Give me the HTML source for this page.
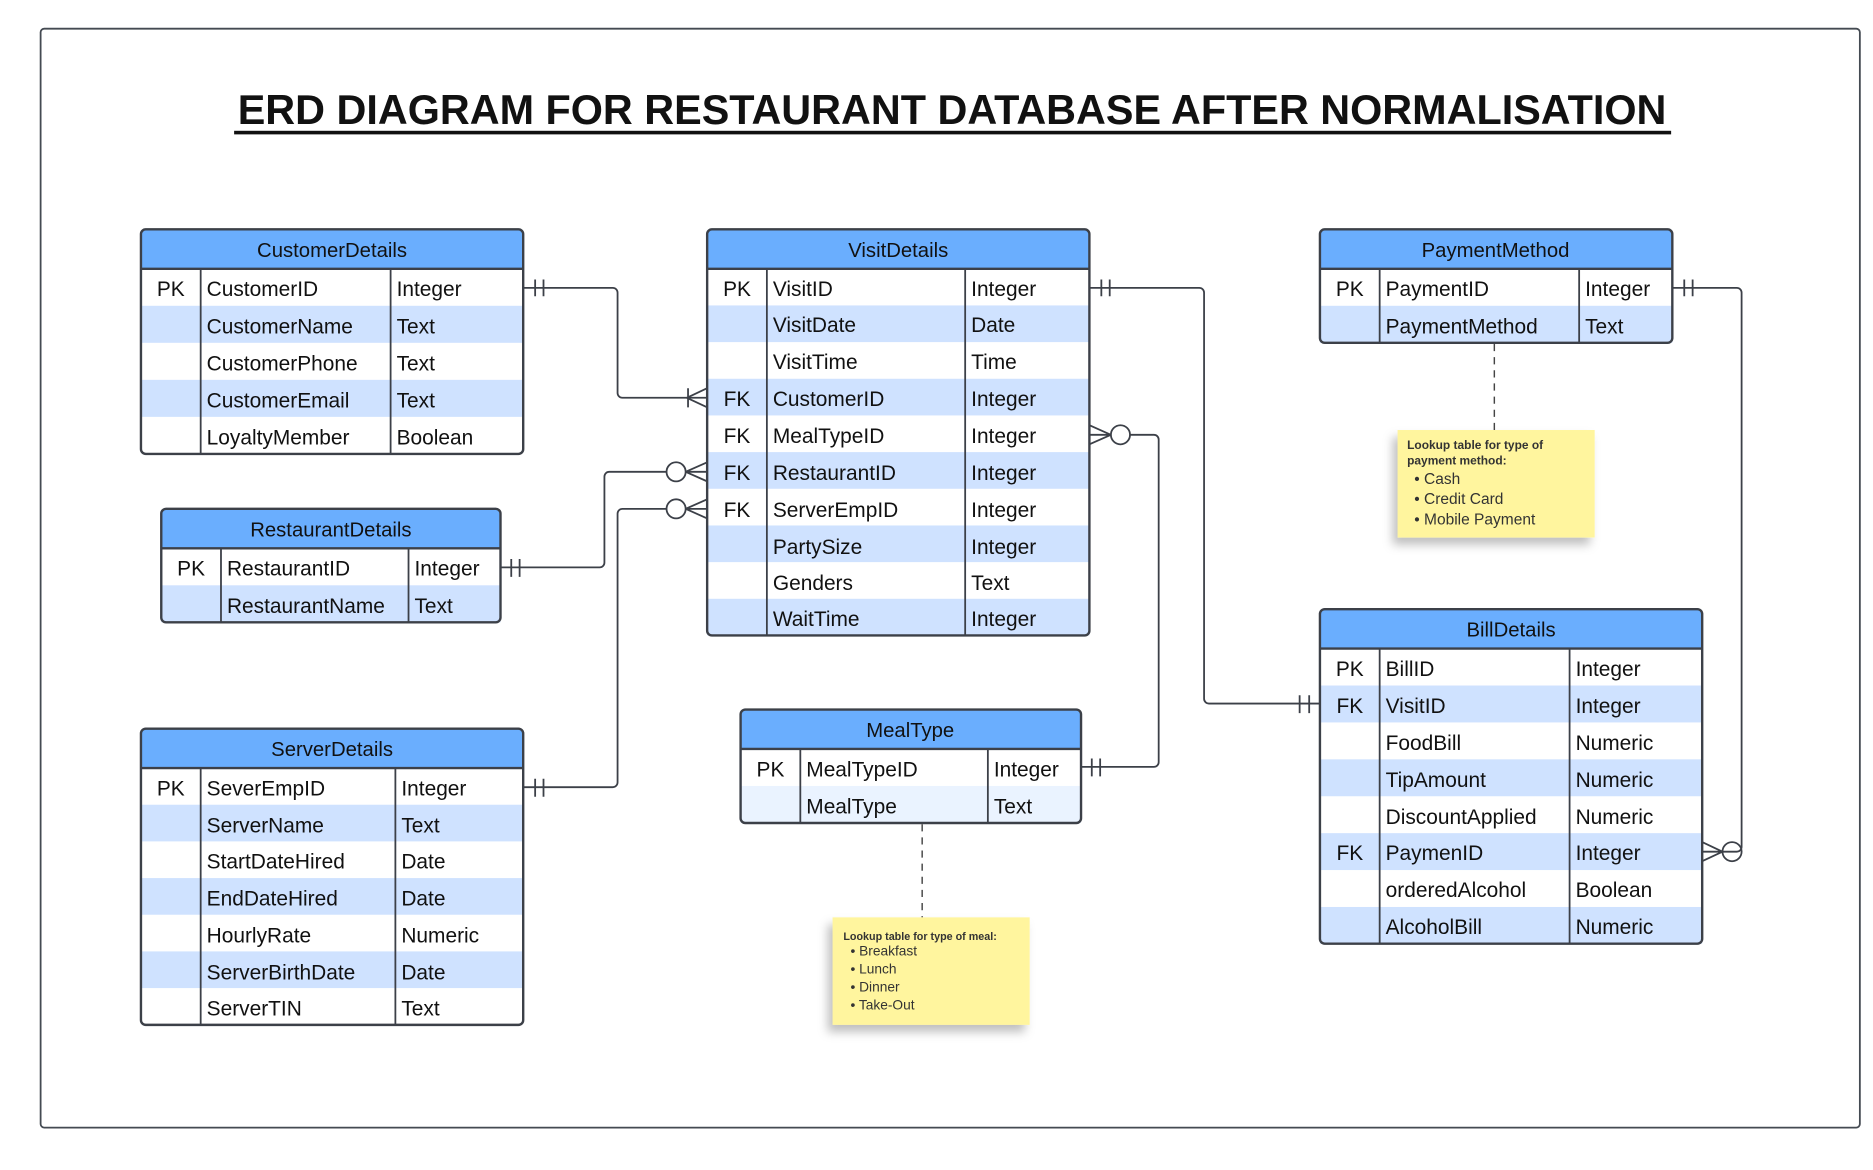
<!DOCTYPE html>
<html><head><meta charset="utf-8"><style>
html,body{margin:0;padding:0;background:#fff;}
svg{display:block;}
text{font-family:"Liberation Sans",sans-serif;fill:#111;}
.t{font-size:17.5px;}
.h{font-size:17px;}
.ln{stroke:#3c4048;stroke-width:1.5;fill:none;}
.bd{stroke:#3c4048;stroke-width:2;fill:none;}
.hd{fill:#6aaefe;}
.sh{fill:#cfe2ff;}
.n1{font-size:10px;font-weight:bold;fill:#333;}
.n2{font-size:13px;fill:#333;}
.n3{font-size:11.5px;fill:#333;}
</style></head><body>
<svg width="1873" height="1170" viewBox="0 0 1568 979.5" preserveAspectRatio="none" xmlns="http://www.w3.org/2000/svg">
<defs>
<filter id="sd" x="-20%" y="-20%" width="140%" height="150%"><feDropShadow dx="-4" dy="6" stdDeviation="4" flood-color="#000" flood-opacity="0.25"/></filter>
</defs>
<rect x="34" y="24" width="1523" height="920" rx="3" fill="#fff" stroke="#444a52" stroke-width="1.5"/>
<text x="797" y="104" text-anchor="middle" font-size="35" font-weight="bold" textLength="1196" lengthAdjust="spacingAndGlyphs">ERD  DIAGRAM  FOR  RESTAURANT  DATABASE   AFTER  NORMALISATION</text>
<rect x="196" y="109.5" width="1203" height="3" fill="#111"/>

<!-- CustomerDetails -->
<rect x="118" y="192" width="320" height="188" rx="4" fill="#fff"/>
<path class="hd" d="M122 192h312a4 4 0 0 1 4 4v29h-320v-29a4 4 0 0 1 4-4z"/>
<rect class="sh" x="118" y="256" width="320" height="31"/>
<rect class="sh" x="118" y="318" width="320" height="31"/>
<line class="bd" x1="118" y1="225" x2="438" y2="225"/>
<line class="ln" x1="168" y1="225" x2="168" y2="380"/><line class="ln" x1="327" y1="225" x2="327" y2="380"/>
<rect class="bd" x="118" y="192" width="320" height="188" rx="4"/>
<text class="h" x="278" y="215" text-anchor="middle">CustomerDetails</text>
<text class="t" x="143" y="248" text-anchor="middle">PK</text>
<text class="t" x="173" y="248">CustomerID</text><text class="t" x="332" y="248">Integer</text>
<text class="t" x="173" y="279">CustomerName</text><text class="t" x="332" y="279">Text</text>
<text class="t" x="173" y="310">CustomerPhone</text><text class="t" x="332" y="310">Text</text>
<text class="t" x="173" y="341">CustomerEmail</text><text class="t" x="332" y="341">Text</text>
<text class="t" x="173" y="372">LoyaltyMember</text><text class="t" x="332" y="372">Boolean</text>

<!-- VisitDetails -->
<rect x="592" y="192" width="320" height="340" rx="4" fill="#fff"/>
<path class="hd" d="M596 192h312a4 4 0 0 1 4 4v29h-320v-29a4 4 0 0 1 4-4z"/>
<rect class="sh" x="592" y="255.7" width="320" height="30.7"/>
<rect class="sh" x="592" y="317.1" width="320" height="30.7"/>
<rect class="sh" x="592" y="378.5" width="320" height="30.7"/>
<rect class="sh" x="592" y="439.9" width="320" height="30.7"/>
<rect class="sh" x="592" y="501.3" width="320" height="30.7"/>
<line class="bd" x1="592" y1="225" x2="912" y2="225"/>
<line class="ln" x1="642" y1="225" x2="642" y2="532"/><line class="ln" x1="808" y1="225" x2="808" y2="532"/>
<rect class="bd" x="592" y="192" width="320" height="340" rx="4"/>
<text class="h" x="752" y="215" text-anchor="middle">VisitDetails</text>
<text class="t" x="617" y="248" text-anchor="middle">PK</text>
<text class="t" x="647" y="248">VisitID</text><text class="t" x="813" y="248">Integer</text>
<text class="t" x="647" y="278">VisitDate</text><text class="t" x="813" y="278">Date</text>
<text class="t" x="647" y="309">VisitTime</text><text class="t" x="813" y="309">Time</text>
<text class="t" x="617" y="340" text-anchor="middle">FK</text>
<text class="t" x="647" y="340">CustomerID</text><text class="t" x="813" y="340">Integer</text>
<text class="t" x="617" y="371" text-anchor="middle">FK</text>
<text class="t" x="647" y="371">MealTypeID</text><text class="t" x="813" y="371">Integer</text>
<text class="t" x="617" y="402" text-anchor="middle">FK</text>
<text class="t" x="647" y="402">RestaurantID</text><text class="t" x="813" y="402">Integer</text>
<text class="t" x="617" y="433" text-anchor="middle">FK</text>
<text class="t" x="647" y="433">ServerEmpID</text><text class="t" x="813" y="433">Integer</text>
<text class="t" x="647" y="464">PartySize</text><text class="t" x="813" y="464">Integer</text>
<text class="t" x="647" y="494">Genders</text><text class="t" x="813" y="494">Text</text>
<text class="t" x="647" y="524">WaitTime</text><text class="t" x="813" y="524">Integer</text>

<!-- PaymentMethod -->
<rect x="1105" y="192" width="295" height="95" rx="4" fill="#fff"/>
<path class="hd" d="M1109 192h287a4 4 0 0 1 4 4v29h-295v-29a4 4 0 0 1 4-4z"/>
<rect class="sh" x="1105" y="256" width="295" height="31"/>
<line class="bd" x1="1105" y1="225" x2="1400" y2="225"/>
<line class="ln" x1="1155" y1="225" x2="1155" y2="287"/><line class="ln" x1="1322" y1="225" x2="1322" y2="287"/>
<rect class="bd" x="1105" y="192" width="295" height="95" rx="4"/>
<text class="h" x="1252" y="215" text-anchor="middle">PaymentMethod</text>
<text class="t" x="1130" y="248" text-anchor="middle">PK</text>
<text class="t" x="1160" y="248">PaymentID</text><text class="t" x="1327" y="248">Integer</text>
<text class="t" x="1160" y="279">PaymentMethod</text><text class="t" x="1327" y="279">Text</text>

<!-- RestaurantDetails -->
<rect x="135" y="426" width="284" height="95" rx="4" fill="#fff"/>
<path class="hd" d="M139 426h276a4 4 0 0 1 4 4v29h-284v-29a4 4 0 0 1 4-4z"/>
<rect class="sh" x="135" y="490" width="284" height="31"/>
<line class="bd" x1="135" y1="459" x2="419" y2="459"/>
<line class="ln" x1="185" y1="459" x2="185" y2="521"/><line class="ln" x1="342" y1="459" x2="342" y2="521"/>
<rect class="bd" x="135" y="426" width="284" height="95" rx="4"/>
<text class="h" x="277" y="449" text-anchor="middle">RestaurantDetails</text>
<text class="t" x="160" y="482" text-anchor="middle">PK</text>
<text class="t" x="190" y="482">RestaurantID</text><text class="t" x="347" y="482">Integer</text>
<text class="t" x="190" y="513">RestaurantName</text><text class="t" x="347" y="513">Text</text>

<!-- ServerDetails -->
<rect x="118" y="610" width="320" height="248" rx="4" fill="#fff"/>
<path class="hd" d="M122 610h312a4 4 0 0 1 4 4v29h-320v-29a4 4 0 0 1 4-4z"/>
<rect class="sh" x="118" y="673.7" width="320" height="30.7"/>
<rect class="sh" x="118" y="735.1" width="320" height="30.7"/>
<rect class="sh" x="118" y="796.5" width="320" height="30.7"/>
<line class="bd" x1="118" y1="643" x2="438" y2="643"/>
<line class="ln" x1="168" y1="643" x2="168" y2="858"/><line class="ln" x1="331" y1="643" x2="331" y2="858"/>
<rect class="bd" x="118" y="610" width="320" height="248" rx="4"/>
<text class="h" x="278" y="633" text-anchor="middle">ServerDetails</text>
<text class="t" x="143" y="666" text-anchor="middle">PK</text>
<text class="t" x="173" y="666">SeverEmpID</text><text class="t" x="336" y="666">Integer</text>
<text class="t" x="173" y="697">ServerName</text><text class="t" x="336" y="697">Text</text>
<text class="t" x="173" y="727">StartDateHired</text><text class="t" x="336" y="727">Date</text>
<text class="t" x="173" y="758">EndDateHired</text><text class="t" x="336" y="758">Date</text>
<text class="t" x="173" y="789">HourlyRate</text><text class="t" x="336" y="789">Numeric</text>
<text class="t" x="173" y="820">ServerBirthDate</text><text class="t" x="336" y="820">Date</text>
<text class="t" x="173" y="850">ServerTIN</text><text class="t" x="336" y="850">Text</text>

<!-- MealType -->
<rect x="620" y="594" width="285" height="95" rx="4" fill="#fff"/>
<path class="hd" d="M624 594h277a4 4 0 0 1 4 4v29h-285v-29a4 4 0 0 1 4-4z"/>
<rect fill="#eaf3ff" x="620" y="658" width="285" height="31"/>
<line class="bd" x1="620" y1="627" x2="905" y2="627"/>
<line class="ln" x1="670" y1="627" x2="670" y2="689"/><line class="ln" x1="827" y1="627" x2="827" y2="689"/>
<rect class="bd" x="620" y="594" width="285" height="95" rx="4"/>
<text class="h" x="762" y="617" text-anchor="middle">MealType</text>
<text class="t" x="645" y="650" text-anchor="middle">PK</text>
<text class="t" x="675" y="650">MealTypeID</text><text class="t" x="832" y="650">Integer</text>
<text class="t" x="675" y="681">MealType</text><text class="t" x="832" y="681">Text</text>

<!-- BillDetails -->
<rect x="1105" y="510" width="320" height="280" rx="4" fill="#fff"/>
<path class="hd" d="M1109 510h312a4 4 0 0 1 4 4v29h-320v-29a4 4 0 0 1 4-4z"/>
<rect class="sh" x="1105" y="573.9" width="320" height="30.9"/>
<rect class="sh" x="1105" y="635.7" width="320" height="30.9"/>
<rect class="sh" x="1105" y="697.5" width="320" height="30.9"/>
<rect class="sh" x="1105" y="759.3" width="320" height="30.7"/>
<line class="bd" x1="1105" y1="543" x2="1425" y2="543"/>
<line class="ln" x1="1155" y1="543" x2="1155" y2="790"/><line class="ln" x1="1314" y1="543" x2="1314" y2="790"/>
<rect class="bd" x="1105" y="510" width="320" height="280" rx="4"/>
<text class="h" x="1265" y="533" text-anchor="middle">BillDetails</text>
<text class="t" x="1130" y="566" text-anchor="middle">PK</text>
<text class="t" x="1160" y="566">BillID</text><text class="t" x="1319" y="566">Integer</text>
<text class="t" x="1130" y="597" text-anchor="middle">FK</text>
<text class="t" x="1160" y="597">VisitID</text><text class="t" x="1319" y="597">Integer</text>
<text class="t" x="1160" y="628">FoodBill</text><text class="t" x="1319" y="628">Numeric</text>
<text class="t" x="1160" y="659">TipAmount</text><text class="t" x="1319" y="659">Numeric</text>
<text class="t" x="1160" y="690">DiscountApplied</text><text class="t" x="1319" y="690">Numeric</text>
<text class="t" x="1130" y="720" text-anchor="middle">FK</text>
<text class="t" x="1160" y="720">PaymenID</text><text class="t" x="1319" y="720">Integer</text>
<text class="t" x="1160" y="751">orderedAlcohol</text><text class="t" x="1319" y="751">Boolean</text>
<text class="t" x="1160" y="782">AlcoholBill</text><text class="t" x="1319" y="782">Numeric</text>

<!-- connectors -->
<path class="ln" d="M438 241H513a4 4 0 0 1 4 4V329a4 4 0 0 0 4 4H592"/>
<path class="ln" d="M448 234v14M455 234v14"/>
<path class="ln" d="M576 325v16M575 333L592 325M575 333L592 341"/>
<path class="ln" d="M912 241H1004a4 4 0 0 1 4 4V585a4 4 0 0 0 4 4H1105"/>
<path class="ln" d="M922 234v14M929 234v14"/>
<path class="ln" d="M1088 582v15M1096 582v15"/>
<path class="ln" d="M946 364H966a4 4 0 0 1 4 4V638a4 4 0 0 1-4 4H905"/>
<path class="ln" d="M912 356L930 364M912 364H930M912 372L930 364"/>
<circle class="ln" cx="938" cy="364" r="8" fill="#fff"/>
<path class="ln" d="M914 635v15M921 635v15"/>
<path class="ln" d="M419 475H502a4 4 0 0 0 4-4V399a4 4 0 0 1 4-4H558"/>
<path class="ln" d="M428 468v15M435 468v15"/>
<circle class="ln" cx="566" cy="395" r="8" fill="#fff"/>
<path class="ln" d="M574 395H592M574 395L592 387M574 395L592 403"/>
<path class="ln" d="M438 659H513a4 4 0 0 0 4-4V430a4 4 0 0 1 4-4H558"/>
<path class="ln" d="M448 652v15M455 652v15"/>
<circle class="ln" cx="566" cy="426" r="8" fill="#fff"/>
<path class="ln" d="M574 426H592M574 426L592 418M574 426L592 434"/>
<path class="ln" d="M1400 241H1454a4 4 0 0 1 4 4V709a4 4 0 0 1-4 4H1442"/>
<path class="ln" d="M1410 234v14M1417 234v14"/>
<circle class="ln" cx="1450" cy="713" r="8" fill="#fff"/>
<path class="ln" d="M1425 713H1442M1425 705L1442 713M1425 721L1442 713"/>

<path d="M1251 288V360" stroke="#444" stroke-width="1.2" stroke-dasharray="6,5" fill="none"/>
<path d="M772 690V768" stroke="#444" stroke-width="1.2" stroke-dasharray="6,5" fill="none"/>

<rect x="1170" y="360" width="165" height="90" fill="#fff59e" filter="url(#sd)"/>
<text class="n1" x="1178" y="376">Lookup table for type of</text>
<text class="n1" x="1178" y="389">payment method:</text>
<text class="n2" x="1184" y="405">•  Cash</text>
<text class="n2" x="1184" y="422">•  Credit Card</text>
<text class="n2" x="1184" y="439">•  Mobile Payment</text>

<rect x="697" y="768" width="165" height="90" fill="#fff59e" filter="url(#sd)"/>
<text class="n1" x="706" y="787" style="font-size:9px">Lookup table for type of meal:</text>
<text class="n3" x="712" y="800">•  Breakfast</text>
<text class="n3" x="712" y="815">•  Lunch</text>
<text class="n3" x="712" y="830">•  Dinner</text>
<text class="n3" x="712" y="845">•  Take-Out</text>
</svg>
</body></html>
